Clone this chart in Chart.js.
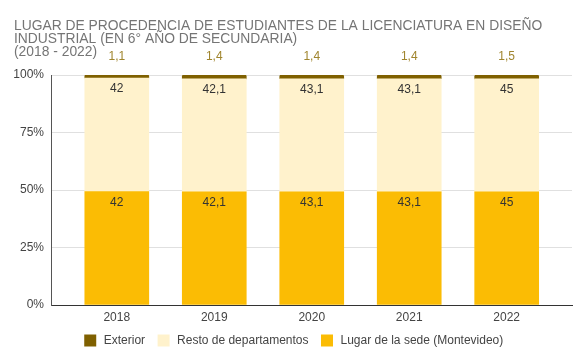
<!DOCTYPE html>
<html>
<head>
    <title>Lugar de procedencia - Diseño Industrial</title>
    <script src="https://cdn.jsdelivr.net/npm/chart.js"></script>
    <style>
        body { margin: 0; background: #fff; }
    </style>
</head>
<body>
    <canvas id="procChart" width="587" height="359"></canvas>

    <script>
        var years = ['2018', '2019', '2020', '2021', '2022'];
        var sede = [42, 42.1, 43.1, 43.1, 45];
        var resto = [42, 42.1, 43.1, 43.1, 45];
        var exterior = [1.1, 1.4, 1.4, 1.4, 1.5];
        var yTicks = [0, 25, 50, 75, 100];

        var totals = years.map(function (y, i) { return sede[i] + resto[i] + exterior[i]; });
        function pct(arr) {
            return arr.map(function (v, i) { return { x: i, y: v / totals[i] * 100 }; });
        }
        function fmt(v) { return String(v).replace('.', ','); }

        var FONT = '"Liberation Sans", Arial, sans-serif';

        // value labels, drawn from the bar elements
        var valueLabels = {
            id: 'valueLabels',
            afterDatasetsDraw: function (chart) {
                var ctx = chart.ctx;
                ctx.save();
                ctx.font = '12px ' + FONT;
                ctx.textAlign = 'center';
                ctx.textBaseline = 'middle';
                chart.data.datasets.forEach(function (ds, di) {
                    var meta = chart.getDatasetMeta(di);
                    meta.data.forEach(function (bar, i) {
                        var raw = ds.rawValues[i];
                        if (ds.labelOutside) {
                            ctx.fillStyle = '#a0852e';
                            ctx.fillText(fmt(raw), bar.x, bar.y - 18);
                        } else {
                            ctx.fillStyle = '#333';
                            ctx.fillText(fmt(raw), bar.x, bar.y + 11);
                        }
                    });
                });
                ctx.restore();
            }
        };

        var ctx = document.getElementById('procChart').getContext('2d');
        var chart = new Chart(ctx, {
            type: 'bar',
            data: {
                datasets: [{
                    label: 'Lugar de la sede (Montevideo)',
                    data: pct(sede),
                    rawValues: sede,
                    backgroundColor: '#fbbc04'
                }, {
                    label: 'Resto de departamentos',
                    data: pct(resto),
                    rawValues: resto,
                    backgroundColor: '#fff2cc'
                }, {
                    label: 'Exterior',
                    data: pct(exterior),
                    rawValues: exterior,
                    labelOutside: true,
                    backgroundColor: '#7f6000',
                    borderRadius: { topLeft: 2, topRight: 2 },
                    borderSkipped: 'bottom'
                }]
            },
            options: {
                responsive: false,
                devicePixelRatio: 1,
                animation: false,
                barThickness: 64,
                layout: { padding: { left: 14, right: 15, top: 0, bottom: 1 } },
                plugins: {
                    title: {
                        display: true,
                        align: 'start',
                        text: ['LUGAR DE PROCEDENCIA DE ESTUDIANTES DE LA LICENCIATURA EN DISEÑO',
                               'INDUSTRIAL (EN 6° AÑO DE SECUNDARIA)',
                               '(2018 - 2022)'],
                        color: '#757575',
                        font: { family: FONT, size: 13.85, weight: 'normal', lineHeight: 0.94 },
                        padding: { top: 20, bottom: 16 }
                    },
                    legend: {
                        position: 'bottom',
                        reverse: true,
                        labels: {
                            boxWidth: 15,
                            boxHeight: 15,
                            padding: 11,
                            color: '#444',
                            font: { family: FONT, size: 12 },
                            // white outline trims the 15px box to a 12px swatch with some air round it
                            generateLabels: function (chart) {
                                var items = Chart.defaults.plugins.legend.labels.generateLabels(chart);
                                items.forEach(function (it) {
                                    it.lineWidth = 3;
                                    it.strokeStyle = '#fff';
                                });
                                return items;
                            }
                        }
                    },
                    tooltip: { enabled: false }
                },
                scales: {
                    x: {
                        type: 'linear',
                        stacked: true,
                        offset: false,
                        min: -0.675,
                        max: 4.67,
                        afterBuildTicks: function (s) {
                            s.ticks = years.map(function (y, i) { return { value: i }; });
                        },
                        afterFit: function (s) { s.height = 17; },
                        grid: { display: false, drawTicks: false },
                        border: { color: '#333', width: 1 },
                        ticks: {
                            padding: 5,
                            color: '#444',
                            font: { family: FONT, size: 12 },
                            callback: function (v) { return years[v]; }
                        }
                    },
                    y: {
                        stacked: true,
                        min: 0,
                        max: 100,
                        afterBuildTicks: function (s) {
                            s.ticks = yTicks.map(function (v) { return { value: v }; });
                        },
                        afterFit: function (s) { s.width = 37; },
                        grid: { color: '#e0e0e0', drawTicks: false },
                        border: { color: '#555', width: 1 },
                        ticks: {
                            padding: 7,
                            color: '#444',
                            font: { family: FONT, size: 12 },
                            callback: function (v) { return v + '%'; }
                        }
                    }
                }
            },
            plugins: [valueLabels]
        });
    </script>
</body>
</html>
